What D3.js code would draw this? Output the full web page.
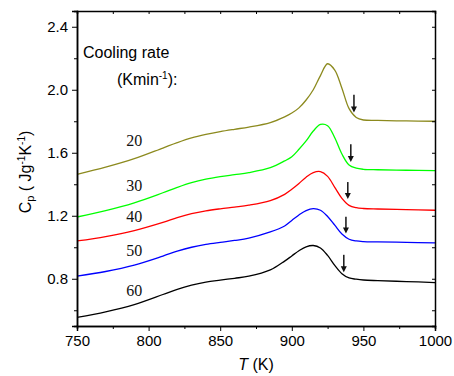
<!DOCTYPE html>
<html><head><meta charset="utf-8">
<script src="https://cdn.jsdelivr.net/npm/d3@7"></script>
<style>body{margin:0;background:#fff}svg{display:block}</style>
</head><body><svg id="c" width="454" height="376"></svg>
<script>
const temps = [750,770,790,810,820,830,840,850,860,870,885,895,900,905,910,915,920,925,930,935,940,945,950,960,980,1000];
const cp20 = [1.463,1.508,1.562,1.630,1.664,1.694,1.716,1.734,1.749,1.763,1.792,1.828,1.852,1.885,1.935,2.000,2.090,2.165,2.125,2.010,1.880,1.824,1.808,1.805,1.802,1.800];
const cp30 = [1.192,1.232,1.282,1.346,1.380,1.410,1.432,1.448,1.461,1.474,1.505,1.548,1.575,1.622,1.675,1.738,1.780,1.772,1.695,1.592,1.522,1.502,1.495,1.492,1.489,1.487];
const cp40 = [1.040,1.068,1.106,1.158,1.188,1.213,1.231,1.244,1.255,1.267,1.296,1.336,1.368,1.405,1.445,1.474,1.480,1.450,1.380,1.310,1.266,1.251,1.246,1.243,1.239,1.235];
const cp50 = [0.816,0.846,0.887,0.944,0.975,1.000,1.018,1.031,1.043,1.058,1.097,1.135,1.170,1.205,1.233,1.245,1.235,1.195,1.140,1.084,1.051,1.040,1.036,1.034,1.031,1.028];
const cp60 = [0.555,0.590,0.636,0.700,0.733,0.759,0.778,0.791,0.803,0.816,0.856,0.912,0.945,0.978,1.003,1.011,0.995,0.948,0.885,0.832,0.805,0.797,0.792,0.788,0.782,0.776];
const rates = ["20","30","40","50","60"];
const colors = ["#8c8a1e","#00ff00","#ff0000","#0000ff","#000000"];
const labelY = [1.640,1.359,1.162,0.946,0.690];
const arrowT = [943.4,941.2,939.1,937.8,936.3];
const arrowTop = [1.969,1.654,1.414,1.193,0.952];
const arrowBottom = [1.855,1.541,1.306,1.087,0.841];
const xTicks = [750,800,850,900,950,1000];
const yTicks = [0.8,1.2,1.6,2.0,2.4];
const series = [cp20,cp30,cp40,cp50,cp60];

const svg = d3.select("#c");
const L=77,R=435,T=11,B=326;
const x = d3.scaleLinear().domain([750,1000]).range([L,R]);
const y = d3.scaleLinear().domain([0.5,2.5]).range([B,T]);

const line = d3.line().x((d,i)=>x(temps[i])).y(d=>y(d)).curve(d3.curveCatmullRom.alpha(0.5));
series.forEach((s,k)=>{
  svg.append("path").attr("d",line(s)).attr("fill","none").attr("stroke",colors[k]).attr("stroke-width",1.3);
});

rates.forEach((r,k)=>{
  svg.append("text").attr("x",x(790)).attr("y",y(labelY[k])).attr("text-anchor","middle")
    .attr("font-family","Liberation Serif, Times New Roman, serif").attr("font-size",16).attr("fill","#111").text(r);
});

rates.forEach((r,k)=>{
  const ax=x(arrowT[k]), y0=y(arrowTop[k]), y1=y(arrowBottom[k]);
  svg.append("line").attr("x1",ax).attr("x2",ax).attr("y1",y0).attr("y2",y1-4).attr("stroke","#222").attr("stroke-width",1.6);
  svg.append("path").attr("d",`M${ax-3},${y1-6}L${ax+3},${y1-6}L${ax},${y1}Z`).attr("fill","#111");
});

const fam="Liberation Sans, Arial, sans-serif";
const xa = d3.axisBottom(x).tickValues(xTicks).tickFormat(d3.format("d")).tickSize(5).tickPadding(4);
const gx = svg.append("g").attr("transform",`translate(0,${B})`).call(xa);
gx.selectAll("text").attr("font-family",fam).attr("font-size",15).attr("fill","#000");
const xm = d3.axisBottom(x).tickValues([775,825,875,925,975]).tickFormat("").tickSize(3);
svg.append("g").attr("transform",`translate(0,${B})`).call(xm);
const ya = d3.axisLeft(y).tickValues(yTicks).tickFormat(d3.format(".1f")).tickSize(5).tickPadding(4);
const gy = svg.append("g").attr("transform",`translate(${L},0)`).call(ya);
gy.selectAll("text").attr("font-family",fam).attr("font-size",15).attr("fill","#000");
const ym = d3.axisLeft(y).tickValues([0.6,1.0,1.4,1.8,2.2]).tickFormat("").tickSize(3);
svg.append("g").attr("transform",`translate(${L},0)`).call(ym);
svg.append("g").attr("transform",`translate(0,${T})`).call(d3.axisBottom(x).tickValues(xTicks.concat([775,825,875,925,975])).tickFormat("").tickSize(3));
svg.append("g").attr("transform",`translate(${R},0)`).call(d3.axisLeft(y).tickValues(yTicks.concat([0.6,1.0,1.4,1.8,2.2])).tickFormat("").tickSize(3));
svg.selectAll(".domain").attr("stroke","#000").attr("stroke-width",1.5);
svg.selectAll(".tick line").attr("stroke","#000").attr("stroke-width",1);

const xt = svg.append("text").attr("x",(L+R)/2).attr("y",370).attr("text-anchor","middle").attr("font-family",fam).attr("font-size",16);
xt.append("tspan").attr("font-style","italic").text("T");
xt.append("tspan").text(" (K)");

const yt = svg.append("text").attr("transform",`translate(31,172) rotate(-90)`).attr("text-anchor","middle").attr("font-family",fam).attr("font-size",16);
yt.append("tspan").text("C");
yt.append("tspan").attr("font-size",11).attr("dy",3).text("p");
yt.append("tspan").attr("dy",-3).text(" ( Jg");
yt.append("tspan").attr("font-size",10).attr("dy",-6).text("-1");
yt.append("tspan").attr("dy",6).text("K");
yt.append("tspan").attr("font-size",10).attr("dy",-6).text("-1");
yt.append("tspan").attr("dy",6).text(")");

svg.append("text").attr("x",83).attr("y",58).attr("font-family",fam).attr("font-size",16).text("Cooling rate");
const kt = svg.append("text").attr("x",117).attr("y",85).attr("font-family",fam).attr("font-size",16);
kt.append("tspan").text("(Kmin");
kt.append("tspan").attr("font-size",10).attr("dy",-6).text("-1");
kt.append("tspan").attr("dy",6).text("):");
</script></body></html>
